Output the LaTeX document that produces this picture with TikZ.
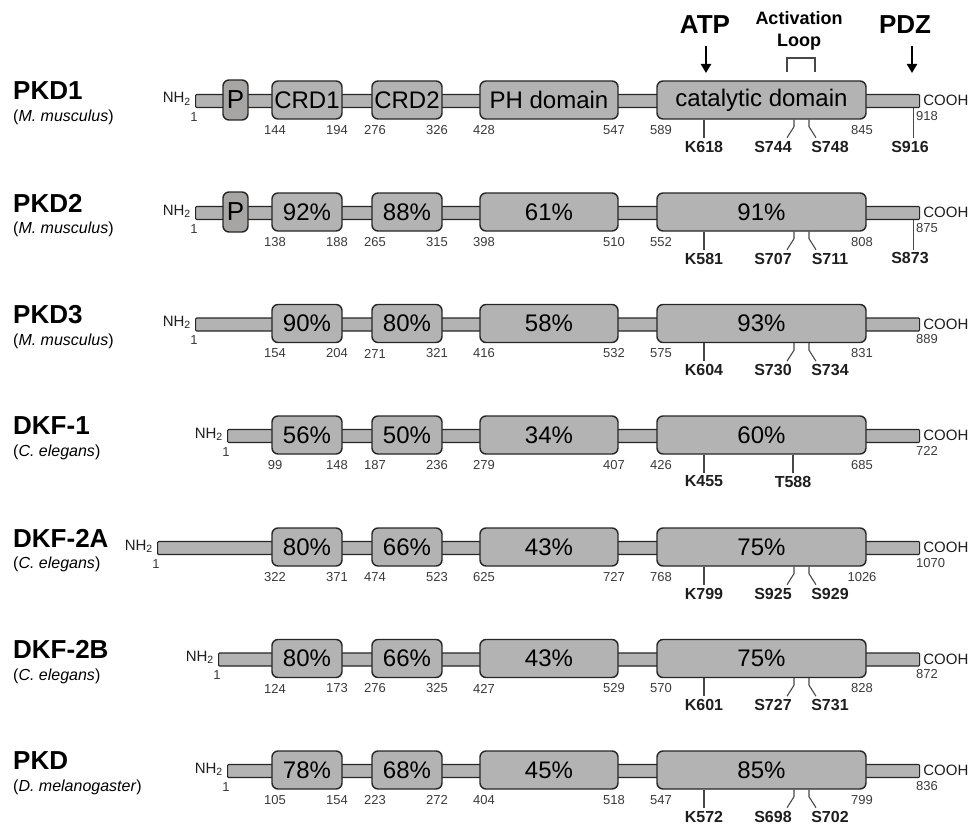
\documentclass[tikz,border=0pt]{standalone}
\usepackage{fontspec}
\setmainfont{Liberation Sans}
\usepackage{xcolor}
\usepackage{tikz}
\usetikzlibrary{arrows.meta,positioning}
\definecolor{boxgray}{HTML}{B3B3B3}
\definecolor{pgray}{HTML}{A7A4A4}
\definecolor{edge}{HTML}{262626}
\definecolor{numgray}{HTML}{3A3A3A}
\definecolor{tickc}{HTML}{484848}
\definecolor{sitec}{HTML}{1E1E1E}
\begin{document}
\begin{tikzpicture}[x=1pt, y=-1pt,
  dom/.style={draw=edge, fill=boxgray, rounded corners=6pt, line width=1.4pt, minimum height=38pt, inner sep=0pt, font=\fontsize{24}{24}\selectfont},
  pbox/.style={dom, fill=pgray, minimum width=25pt, minimum height=40pt, font=\fontsize{26}{26}\selectfont},
  bar/.style={draw=edge, fill=boxgray, line width=1.2pt, minimum height=13pt, inner sep=0pt, anchor=west, rounded corners=1pt},
  num/.style={font=\fontsize{13}{13}\selectfont, text=numgray, inner sep=0pt},
  term/.style={font=\fontsize{15}{15}\selectfont, text=sitec, inner sep=0pt},
  site/.style={font=\fontsize{16}{16}\selectfont\bfseries, text=sitec, inner sep=0pt},
  tick/.style={draw=tickc, line width=1.1pt},
  prot/.style={font=\fontsize{26}{26}\selectfont\bfseries, anchor=west, inner sep=0pt},
  org/.style={font=\fontsize{16}{16}\selectfont, anchor=west, inner sep=0pt},
  hdr/.style={font=\fontsize{26}{26}\selectfont\bfseries, inner sep=0pt},
  loopl/.style={font=\fontsize{18}{22}\selectfont\bfseries, align=center, inner sep=0pt},
  arr/.style={-{Triangle[length=9pt, width=10pt]}, line width=2.5pt}
]
\useasboundingbox (0,0) rectangle (972,824);
% ---- header
\node[hdr] (atp) at (705,25) {ATP};
\node[loopl] (actl) at (799,31) {Activation\\Loop};
\node[hdr] (pdz) at (905,25) {PDZ};
\coordinate (atpa) at (706,46); \coordinate (atpb) at (706,73);
\coordinate (pdza) at (912,46); \coordinate (pdzb) at (912,73);
\draw[arr] (atpa) -- (atpb);
\draw[arr] (pdza) -- (pdzb);
\draw[tick] (787,72) -- (787,58) -- (815,58) -- (815,72);
% ---- rows: name, backbone, domains
\foreach \r/\y/\xs/\nm/\sp/\ta/\tb/\tc/\td in {
  1/100/195/PKD1/M. musculus/CRD1/CRD2/PH domain/catalytic domain,
  2/212/195/PKD2/M. musculus/92\%/88\%/61\%/91\%,
  3/323.5/195/PKD3/M. musculus/90\%/80\%/58\%/93\%,
  4/435/227/DKF-1/C. elegans/56\%/50\%/34\%/60\%,
  5/547/157/DKF-2A/C. elegans/80\%/66\%/43\%/75\%,
  6/658.5/218/DKF-2B/C. elegans/80\%/66\%/43\%/75\%,
  7/770/227/PKD/D. melanogaster/78\%/68\%/45\%/85\%}
{
  \node[prot] (nm\r) at (13,\y-9) {\nm};
  \node[org] (sp\r) at (13,\y+17.5) {(\textit{\sp})};
  \pgfmathsetmacro\bw{919-\xs}
  \node[bar, minimum width=\bw pt] (bar\r) at (\xs,\y+1) {};
  \node[term, anchor=base east] (nh\r) at ([xshift=-4pt, yshift=-2pt]bar\r.west) {NH\textsubscript{2}};
  \node[num] (one\r) at ([xshift=-1pt, yshift=-16pt]bar\r.west) {1};
  \node[term, anchor=west] (co\r) at ([xshift=3pt, yshift=0.5pt]bar\r.east) {COOH};
  \node[dom, minimum width=70pt] (crda\r) at (307,\y) {\ta};
  \node[dom, minimum width=70pt] (crdb\r) at (407,\y) {\tb};
  \node[dom, minimum width=138pt] (ph\r) at (549,\y) {\tc};
  \node[dom, minimum width=209pt] (cat\r) at (761.5,\y) {\td};
}
\node[pbox] (p1) at (235.5,100) {P};
\node[pbox] (p2) at (235.5,212) {P};
% ---- residue numbers
\foreach \r/\y/\na/\nb/\nc/\nd/\ne/\nf/\ng/\nh/\ni in {
  1/100/144/194/276/326/428/547/589/845/918,
  2/212/138/188/265/315/398/510/552/808/875,
  3/323.5/154/204/271/321/416/532/575/831/889,
  4/435/99/148/187/236/279/407/426/685/722,
  5/547/322/371/474/523/625/727/768/1026/1070,
  6/658.5/124/173/276/325/427/529/570/828/872,
  7/770/105/154/223/272/404/518/547/799/836}
{
  \foreach \v/\x in {\na/275,\nb/337,\nc/375,\nd/437,\ne/484,\nf/614,\ng/661,\nh/862}
    {\node[num] (n\r-\x) at (\x,\y+30) {\v};}
  \node[num, anchor=west] (nend\r) at (916,\y+16) {\ni};
}
% ---- sites
\foreach \r/\y/\k/\sa/\sb in {1/100/K618/S744/S748, 2/212/K581/S707/S711,
  3/323.5/K604/S730/S734, 5/547/K799/S925/S929, 6/658.5/K601/S727/S731, 7/770/K572/S698/S702}
{
  \node[site] (k\r) at (704,\y+46.5) {\k};
  \node[site] (sa\r) at (773,\y+46.5) {\sa};
  \node[site] (sb\r) at (830,\y+46.5) {\sb};
  \draw[tick] (cat\r.south -| k\r) -- ++(0,18);
  \draw[tick] ([xshift=32.5pt]cat\r.south) -- ++(0,7) -- ++(-7,11);
  \draw[tick] ([xshift=47.5pt]cat\r.south) -- ++(0,7) -- ++(7,11);
}
\node[site] (k4) at (704,481.5) {K455};
\node[site] (t4) at (793,481.5) {T588};
\draw[tick] (cat4.south -| k4) -- ++(0,18);
\draw[tick] (cat4.south -| t4) -- ++(0,18);
\node[site] (se1) at (910,146.5) {S916};
\node[site] (se2) at (910,258.5) {S873};
\draw[tick] ([xshift=-7pt]bar1.south east) -- ++(0,29.5);
\draw[tick] ([xshift=-7pt]bar2.south east) -- ++(0,29.5);
\end{tikzpicture}
\end{document}
